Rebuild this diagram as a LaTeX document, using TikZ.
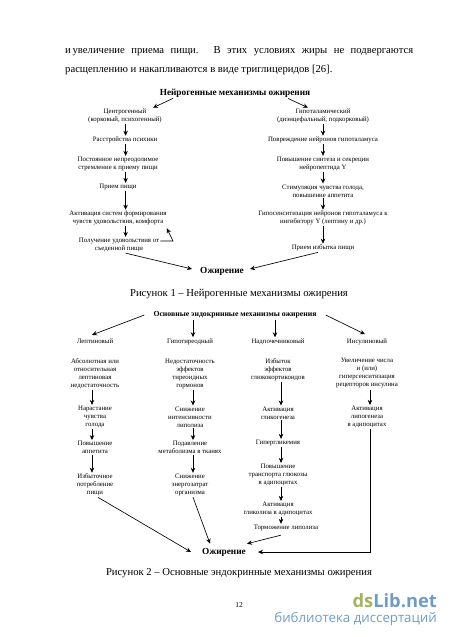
\documentclass[tikz,border=0pt]{standalone}
\usepackage{fontspec}
\setmainfont{Liberation Serif}
\newfontfamily\wmfont{Open Sans}
\usetikzlibrary{arrows.meta}
\definecolor{wmgreen}{HTML}{A3B35F}
\definecolor{wmblue}{HTML}{6E9CC6}
\tikzset{
	small/.style={align=center, inner sep=1pt, font=\fontsize{6.8}{8}\selectfont},
	head/.style={inner sep=1pt, font=\fontsize{9.3}{11}\selectfont\bfseries},
	caption/.style={inner sep=0pt, font=\fontsize{10.65}{13}\selectfont},
	arr/.style={-{Stealth[length=5pt,width=4.5pt]}, line width=0.65pt}
}
\begin{document}
\begin{tikzpicture}[x=1pt,y=-1pt]
	\useasboundingbox (0,0) rectangle (450,637);
	% Text
	\node (body) [text width=348pt, align=justify, inner sep=0pt, font=\fontsize{10.65}{19}\selectfont, anchor=north west] at (65,46)
		{и\,увеличение приема пищи. В этих условиях жиры не подвергаются расщеплению и накапливаются в виде триглицеридов [26].};
	% Figure 1
	\node (titleA) [head] at (235,93) {Нейрогенные механизмы ожирения};
	\node (cen) [small] at (125,116) {Центрогенный\\(корковый, психогенный)};
	\node (psy) [small] at (125,140) {Расстройства психики};
	\node (urge) [small] at (118,164) {Постоянное непреодолимое\\стремление к приему пищи};
	\node (food) [small] at (118,187) {Прием пищи};
	\node (act) [small] at (118,218) {Активация систем формирования\\чувств удовольствия, комфорта};
	\node (joy) [small] at (119,245) {Получение удовольствия от\\съеденной пищи};
	\node (hyp) [small] at (323,116) {Гипоталамический\\(диэнцефальный, подкорковый)};
	\node (dmg) [small] at (323,140) {Повреждение нейронов гипоталамуса};
	\node (syn) [small] at (323,164) {Повышение синтеза и секреции\\нейропептида Y};
	\node (stim) [small] at (323,191) {Стимуляция чувства голода,\\повышение аппетита};
	\node (hypo) [small] at (323,218) {Гипосенситизация нейронов гипоталамуса к\\ингибитору Y (лептину и др.)};
	\node (excess) [small] at (323,248) {Прием избытка пищи};
	\node (obA) [head] at (222,271) {Ожирение};
	\node (capA) [caption] at (239,294) {Рисунок 1 -- Нейрогенные механизмы ожирения};
	% Arrows of figure 1
	\coordinate (colL) at (125.6,0);
	\coordinate (colR) at (323,0);
	\coordinate (back) at (173,241);
	\draw [arr] ([xshift=-62pt]titleA.south) -- ([xshift=28pt]cen.north);
	\draw [arr] ([xshift=53pt]titleA.south) -- ([xshift=-15pt]hyp.north);
	\foreach \a/\b in {cen/psy,psy/urge,urge/food,food/act,act/joy}
	\draw [arr] (\a.south -| colL) -- (\b.north -| colL);
	\foreach \a/\b in {hyp/dmg,dmg/syn,syn/stim,stim/hypo,hypo/excess}
	\draw [arr] (\a.south -| colR) -- (\b.north -| colR);
	\draw [arr] (joy.east |- back) -- (back) -- ([xshift=-1pt,yshift=-2pt]act.south east);
	\draw [arr] (joy.south -| colL) -- ([xshift=-7pt,yshift=2pt]obA.west);
	\draw [arr] ([xshift=-5pt]excess.south) -- ([xshift=5pt,yshift=2pt]obA.east);
	% Figure 2
	\node (titleB) [head, font=\fontsize{7.75}{10}\selectfont\bfseries] at (235,315) {Основные эндокринные механизмы ожирения};
	\node (lep) [small] at (95,341.5) {Лептиновый};
	\node (thy) [small] at (190,341.5) {Гипотиреодный};
	\node (adr) [small] at (278,341.5) {Надпочечниковый};
	\node (ins) [small] at (367,341.5) {Инсулиновый};
	\node (lepA) [small] at (95,373.5) {Абсолютная или\\относительная\\лептиновая\\недостаточность};
	\node (thyA) [small] at (190,373.5) {Недостаточность\\эффектов\\тиреоидных\\гормонов};
	\node (adrA) [small] at (278,370) {Избыток\\эффектов\\глюкокортикоидов};
	\node (insA) [small] at (367,373.5) {Увеличение числа\\и (или)\\гиперсенситизация\\рецепторов инсулина};
	\node (lepB) [small] at (95,417) {Нарастание\\чувства\\голода};
	\node (thyB) [small] at (190,417) {Снижение\\интенсивности\\липолиза};
	\node (adrB) [small] at (278,413) {Активация\\гликогенеза};
	\node (insB) [small] at (367,417) {Активация\\липогенеза\\в адипоцитах};
	\node (lepC) [small] at (95,447.5) {Повышение\\аппетита};
	\node (thyC) [small] at (190,447.5) {Подавление\\метаболизма в тканях};
	\node (adrC) [small] at (278,443) {Гипергликемия};
	\node (lepD) [small] at (95,485) {Избыточное\\потребление\\пищи};
	\node (thyD) [small] at (190,485) {Снижение\\энергозатрат\\организма};
	\node (adrD) [small] at (278,475) {Повышение\\транспорта глюкозы\\в адипоцитах};
	\node (adrE) [small] at (278,509) {Активация\\гликолиза в адипоцитах};
	\node (adrF) [small] at (286,528) {Торможение липолиза};
	\node (obB) [head] at (224,552) {Ожирение};
	\node (capB) [caption] at (239,573) {Рисунок 2 -- Основные эндокринные механизмы ожирения};
	% Arrows of figure 2
	\coordinate (colA) at (92,0);
	\coordinate (colB) at (193,0);
	\coordinate (colC) at (281,0);
	\coordinate (colD) at (370,0);
	\coordinate (colT) at (275,0);
	\coordinate (bend) at (370,552);
	\draw [arr] ([xshift=-8pt]titleB.west) -- ([xshift=-3pt,yshift=3pt]lep.north);
	\draw [arr] ([xshift=8pt]titleB.east) -- ([xshift=-2pt,yshift=3pt]ins.north);
	\draw [arr] (titleB.south -| colB) -- (thy.north -| colB);
	\draw [arr] (titleB.south -| colT) -- (adr.north -| colT);
	\foreach \a/\b in {lepA/lepB,lepB/lepC,lepC/lepD}
	\draw [arr] (\a.south -| colA) -- (\b.north -| colA);
	\foreach \a/\b in {thyA/thyB,thyB/thyC,thyC/thyD}
	\draw [arr] (\a.south -| colB) -- (\b.north -| colB);
	\foreach \a/\b in {adrA/adrB,adrB/adrC,adrC/adrD,adrD/adrE,adrE/adrF}
	\draw [arr] (\a.south -| colC) -- (\b.north -| colC);
	\draw [arr] (insA.south -| colD) -- (insB.north -| colD);
	\draw [arr] (insB.south -| colD) -- (bend) -- ([xshift=11pt]obB.east);
	\draw [arr] ([xshift=3pt]lepD.south) -- ([xshift=-10pt]obB.west);
	\draw [arr] (thyD.south -| colB) -- ([xshift=-14pt,yshift=3pt]obB.north);
	\draw [arr] ([yshift=-3pt]adrF.south -| colC) -- ([yshift=3pt]obB.north east);
	% Page number and watermark
	\node (page) [inner sep=0pt, font=\fontsize{7.5}{9}\selectfont] at (239,605) {12};
	\node (wmA) [anchor=east, inner sep=0pt, font=\wmfont\fontsize{18.3}{20}\selectfont\bfseries] at (437,601) {\textcolor{wmgreen}{ds}\textcolor{wmblue}{Lib.net}};
	\node (wmB) [anchor=east, inner sep=0pt, text=wmblue, font=\wmfont\fontsize{13.3}{15}\selectfont] at (437,618.5) {библиотека диссертаций};
\end{tikzpicture}
\end{document}
